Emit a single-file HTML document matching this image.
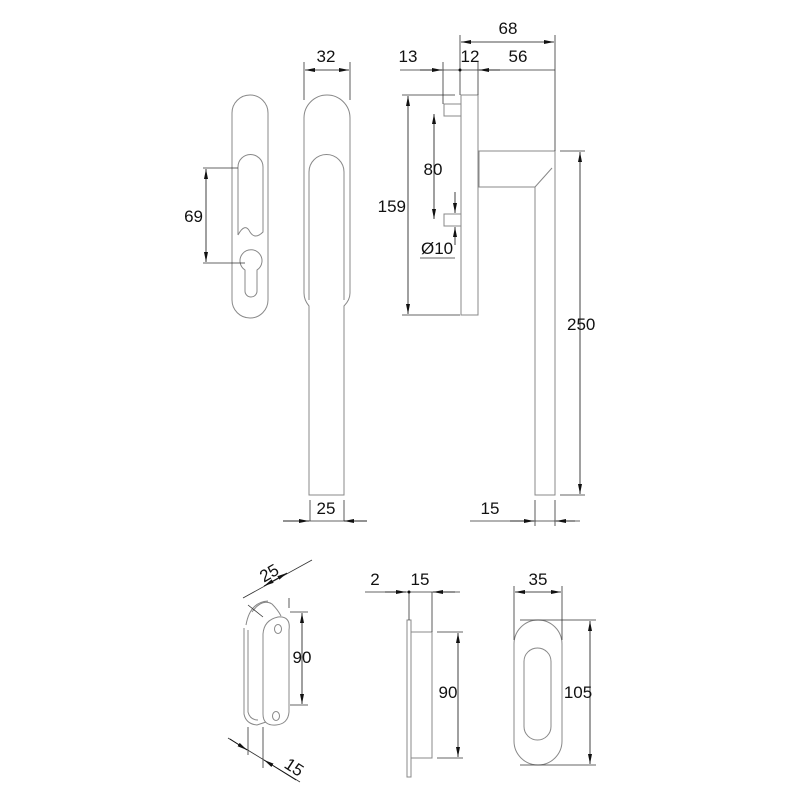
<!DOCTYPE html>
<html><head><style>html,body{margin:0;padding:0;background:#fff}svg{display:block}text{font-family:"Liberation Sans",sans-serif;font-size:17px;fill:#111}</style></head><body>
<svg width="800" height="800" viewBox="0 0 800 800" xmlns="http://www.w3.org/2000/svg">
<defs>
<marker id="a" viewBox="0 0 10 4" refX="10" refY="2" markerWidth="10" markerHeight="4" orient="auto-start-reverse" markerUnits="userSpaceOnUse"><path d="M0,0L10,2L0,4z" fill="#111"/></marker>
</defs>
<g fill="none" stroke="#888" stroke-width="1">
<rect x="232" y="95" width="36" height="223" rx="18"/>
<path d="M238,235 V167 A12.5,12.5 0 0 1 263,167 V232 Q255,240 250,232 Q245,222 238,235"/>
<path d="M245,270 A11,11 0 1 1 257,270 V291 A6,6 0 0 1 245,291 Z"/>
<path d="M304,293 V118 A23,23 0 0 1 350,118 V293 Q350,300 344,306 V495 H309 V306 Q304,300 304,293"/>
<path d="M309,300 V172 A17.5,17.5 0 0 1 344,172 V300"/>
<rect x="461" y="95" width="17" height="220"/>
<rect x="444" y="104" width="17" height="12"/>
<rect x="444" y="214" width="17" height="12"/>
<path d="M478,151 H555 V495 H535 V187 H478"/>
<line x1="479" y1="151" x2="479" y2="187"/>
<line x1="535" y1="187" x2="552" y2="168"/>
<path d="M252,612 Q262,598 272,604 Q278,610 281,616"/>
<path d="M246,625 Q250,602 268,601"/>
<path d="M244,628 V714 Q246,724 257,725 L266,722"/>
<path d="M248,630 V712 Q250,720 258,720"/>
<path d="M263,634 Q264,620 278,617 Q291,616 289,630 V712 Q288,724 276,725 Q263,726 263,714 Z"/>
<ellipse cx="278" cy="629" rx="3.5" ry="4.5"/>
<ellipse cx="276" cy="716" rx="3.5" ry="4.5"/>
<rect x="407" y="620" width="4" height="157"/>
<rect x="411" y="632" width="21" height="126"/>
<rect x="514" y="620" width="48" height="145" rx="24"/>
<rect x="524" y="648" width="27" height="92" rx="13.5"/>
</g>
<g fill="none" stroke="#333" stroke-width="0.8">
<path d="M304,62V100M350,62V100M283,521H367M310,500V521M344,500V521"/>
<path d="M203,168H238M203,263H245"/>
<path d="M443,62V104M460,62V95M478,62V95M555,35V151M460,35V70"/>
<path d="M402,95H455M402,315H460M400,70H555"/>
<path d="M560,151H585M560,495H585M535,500V526M555,500V526M470,521H580"/>
<path d="M420,258H455"/>
<path d="M365,592H460M409,592V620M432,592V632M437,632H463M437,758H463"/>
<path d="M514,586V640M562,586V640M520,620H596M520,765H596"/>
<path d="M243,598L312,560M263,617L248,605M289,608V598M290,612H308M290,705H308M228,738L300,782M248,727V755M263,727V768"/>
</g>
<g stroke="#111" stroke-width="0.8" fill="none" marker-start="url(#a)" marker-end="url(#a)">
<line x1="305" y1="70" x2="349" y2="70"/>
<line x1="206" y1="169" x2="206" y2="262"/>
<line x1="461" y1="42" x2="554" y2="42"/>
<line x1="408" y1="96" x2="408" y2="314"/>
<line x1="434" y1="114" x2="434" y2="219"/>
<line x1="580" y1="152" x2="580" y2="494"/>
<line x1="458" y1="633" x2="458" y2="757"/>
<line x1="515" y1="592" x2="561" y2="592"/>
<line x1="590" y1="621" x2="590" y2="764"/>
<line x1="302" y1="613" x2="302" y2="704"/>
<line x1="264" y1="586" x2="287" y2="573"/>
</g>
<g stroke="#111" stroke-width="0.8" fill="none" marker-end="url(#a)">
<line x1="283" y1="521" x2="309" y2="521"/>
<line x1="367" y1="521" x2="344" y2="521"/>
<line x1="510" y1="521" x2="534" y2="521"/>
<line x1="575" y1="521" x2="556" y2="521"/>
<line x1="420" y1="70" x2="442" y2="70"/>
<line x1="500" y1="70" x2="479" y2="70"/>
<line x1="455" y1="192" x2="455" y2="213"/>
<line x1="455" y1="245" x2="455" y2="227"/>
<line x1="385" y1="592" x2="406" y2="592"/>
<line x1="455" y1="592" x2="433" y2="592"/>
<line x1="230" y1="739" x2="247" y2="750"/>
<line x1="296" y1="780" x2="264" y2="760"/>
</g>
<circle cx="460" cy="70" r="1.5" fill="#111"/>
<circle cx="409" cy="592" r="1.5" fill="#111"/>
<text x="326" y="62" text-anchor="middle">32</text>
<text x="203" y="222" text-anchor="end">69</text>
<text x="326" y="514" text-anchor="middle">25</text>
<text x="508" y="34" text-anchor="middle">68</text>
<text x="408" y="62" text-anchor="middle">13</text>
<text x="470" y="62" text-anchor="middle">12</text>
<text x="518" y="62" text-anchor="middle">56</text>
<text x="433" y="175" text-anchor="middle">80</text>
<text x="406" y="212" text-anchor="end">159</text>
<text x="421" y="254">Ø10</text>
<text x="567" y="330">250</text>
<text x="490" y="514" text-anchor="middle">15</text>
<text x="375" y="585" text-anchor="middle">2</text>
<text x="420" y="585" text-anchor="middle">15</text>
<text x="538" y="585" text-anchor="middle">35</text>
<text x="448" y="698" text-anchor="middle">90</text>
<text x="578" y="698" text-anchor="middle">105</text>
<text x="302" y="663" text-anchor="middle">90</text>
<text x="0" y="0" text-anchor="middle" transform="translate(272,578) rotate(-30)">25</text>
<text x="0" y="0" text-anchor="middle" transform="translate(291,772) rotate(33)">15</text>
</svg>
</body></html>
